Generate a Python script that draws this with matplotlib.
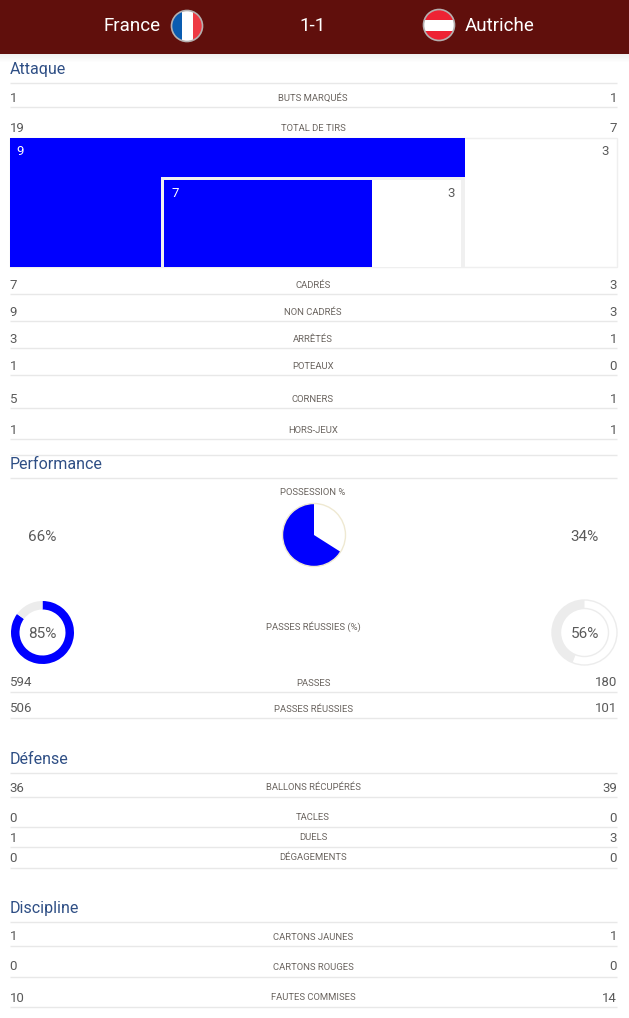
import matplotlib
matplotlib.use("Agg")
import matplotlib.pyplot as plt
from matplotlib.patches import Circle, Rectangle

# =========================================================
# 1. DATA
# =========================================================
team_left = "France"
team_right = "Autriche"
score = "1-1"

sections = ["Attaque", "Performance", "Défense", "Discipline"]

attack_labels = ["BUTS MARQUÉS", "TOTAL DE TIRS", "CADRÉS", "NON CADRÉS", "ARRÊTÉS", "POTEAUX", "CORNERS", "HORS-JEUX"]
attack_left = [1, 19, 7, 9, 3, 1, 5, 1]
attack_right = [1, 7, 3, 3, 1, 0, 1, 1]

passes_labels = ["PASSES", "PASSES RÉUSSIES"]
passes_left = [594, 506]
passes_right = [180, 101]

defense_labels = ["BALLONS RÉCUPÉRÉS", "TACLES", "DUELS", "DÉGAGEMENTS"]
defense_left = [36, 0, 1, 0]
defense_right = [39, 0, 3, 0]

discipline_labels = ["CARTONS JAUNES", "CARTONS ROUGES", "FAUTES COMMISES"]
discipline_left = [1, 0, 10]
discipline_right = [1, 0, 14]

shots_off = [9, 3]
shots_on = [7, 3]
possession = [66, 34]
pass_pct = [85, 56]

# =========================================================
# 2. LAYOUT (pixels from the top)
# =========================================================
W, H = 629, 1018
BLUE = "#0000ff"
VALUE = "#5a5a5a"
LABEL = "#6b6560"
HEAD = "#2f4f85"
LINE = "#e8e8e8"
VAL_SIZE = 9.5
LAB_SIZE = 6.8
PCT_SIZE = 11
HEAD_SIZE = 11.5
TOP_SIZE = 13.5

plt.rcParams["font.family"] = ["Roboto", "DejaVu Sans"]

attack_y = [97, 127, 284, 311, 338, 365, 398, 429]
attack_lines = [107, 294, 321, 348, 375, 408, 439]
passes_y = [682, 708]
passes_lines = [692, 718]
defense_y = [787, 817, 837, 857]
defense_lines = [797, 827, 847, 868]
discipline_y = [936, 966, 997]
discipline_lines = [946, 977, 1007]
section_y = [68, 463, 758, 907]
section_lines = [83, 455, 478, 773, 922]


def Y(y):
    return H - y


fig = plt.figure(figsize=(W / 100, H / 100), dpi=100)
ax = fig.add_axes([0, 0, 1, 1])
ax.set_xlim(0, W)
ax.set_ylim(0, H)


def label(x, y, s, **kw):
    # text sits about a pixel high with va=center
    return ax.text(x, Y(y + 1), s, va="center", **kw)


def rule(y):
    ax.plot([10, 617], [Y(y), Y(y)], color=LINE, lw=1, zorder=1, solid_capstyle="butt")


def row(y, name, left, right):
    label(9.5, y, str(left), color=VALUE, fontsize=VAL_SIZE, ha="left")
    label(617, y, str(right), color=VALUE, fontsize=VAL_SIZE, ha="right")
    label(313, y, name, color=LABEL, fontsize=LAB_SIZE, ha="center")


# =========================================================
# 3. HEADER
# =========================================================
ax.add_patch(Rectangle((0, Y(54)), W, 54, color="#600f0c", zorder=3, lw=0))
for i in range(8):
    ax.add_patch(Rectangle((0, Y(54 + i + 1)), W, 1, color="black", alpha=0.06 * (1 - i / 8), lw=0))

label(161, 25, team_left, color="white", fontsize=TOP_SIZE, ha="right", zorder=4)
label(312.5, 25, score, color="white", fontsize=TOP_SIZE, ha="center", zorder=4)
label(465, 25, team_right, color="white", fontsize=TOP_SIZE, ha="left", zorder=4)

# flags
fr_clip = Circle((187, Y(26)), 15.5, transform=ax.transData)
for x0, c in zip([171, 181.5, 192.5], ["#0a5cb0", "white", "#ee3a43"]):
    r = ax.add_patch(Rectangle((x0, Y(42)), 11, 32, color=c, lw=0, zorder=4))
    r.set_clip_path(fr_clip)
ax.add_patch(Circle((187, Y(26)), 15.5, fill=False, ec="#b5b0b0", lw=1.2, zorder=5))

at_clip = Circle((439, Y(25)), 15.5, transform=ax.transData)
for y0, c in zip([9, 20, 31], ["#ee2233", "white", "#ee2233"]):
    r = ax.add_patch(Rectangle((423, Y(y0 + 11)), 32, 11, color=c, lw=0, zorder=4))
    r.set_clip_path(at_clip)
ax.add_patch(Circle((439, Y(25)), 15.5, fill=False, ec="#b5b0b0", lw=1.2, zorder=5))

# =========================================================
# 4. SECTIONS AND ROWS
# =========================================================
for name, y in zip(sections, section_y):
    label(9.5, y, name, color=HEAD, fontsize=HEAD_SIZE, ha="left")
for y in section_lines:
    rule(y)

for ys, lines, labels, lv, rv in [
    (attack_y, attack_lines, attack_labels, attack_left, attack_right),
    (passes_y, passes_lines, passes_labels, passes_left, passes_right),
    (defense_y, defense_lines, defense_labels, defense_left, defense_right),
    (discipline_y, discipline_lines, discipline_labels, discipline_left, discipline_right),
]:
    for y, lab, a, b in zip(ys, labels, lv, rv):
        row(y, lab, a, b)
    for y in lines:
        rule(y)

# =========================================================
# 5. SHOTS BLOCK
# =========================================================
x0, x1 = 10, 617
top, bot = 138, 267
ax.add_patch(Rectangle((x0, Y(bot)), x1 - x0, bot - top, fc="white", ec="#efefef", lw=1, zorder=2))
outer_w = (x1 - x0) * shots_off[0] / sum(shots_off)
ax.barh(Y((top + bot) / 2), outer_w, height=bot - top, left=x0, color=BLUE, zorder=3)

# on-target box sits in the lower right of the blue bar
in_x0, in_x1 = 161, x0 + outer_w
in_top = 177
ax.add_patch(Rectangle((in_x0, Y(bot)), in_x1 - in_x0, bot - in_top, fc="#f0f0f0", lw=0, zorder=4))
box_x0, box_x1 = in_x0 + 3, in_x1 - 4
box_top = in_top + 3
ax.add_patch(Rectangle((box_x0, Y(bot)), box_x1 - box_x0, bot - box_top, fc="white", lw=0, zorder=5))
inner_w = (box_x1 - box_x0) * shots_on[0] / sum(shots_on)
ax.barh(Y((box_top + bot) / 2), inner_w, height=bot - box_top, left=box_x0, color=BLUE, zorder=6)

label(16, 150, str(shots_off[0]), color="white", fontsize=VAL_SIZE, zorder=7)
label(609, 150, str(shots_off[1]), color=VALUE, fontsize=VAL_SIZE, ha="right", zorder=7)
label(171, 192, str(shots_on[0]), color="white", fontsize=VAL_SIZE, zorder=7)
label(455, 192, str(shots_on[1]), color=VALUE, fontsize=VAL_SIZE, ha="right", zorder=7)

# =========================================================
# 6. POSSESSION AND PASS RINGS
# =========================================================
label(313, 491, "POSSESSION %", color=LABEL, fontsize=LAB_SIZE, ha="center")
ax.pie(possession[::-1], colors=["white", BLUE], startangle=90, counterclock=False,
       center=(314, Y(535)), radius=31.5, frame=True,
       wedgeprops={"lw": 0})
ax.add_patch(Circle((314, Y(535)), 31.5, fill=False, ec="#efe9d2", lw=1, zorder=1))
label(42.5, 536, f"{possession[0]}%", color=VALUE, fontsize=PCT_SIZE, ha="center")
label(584.5, 536, f"{possession[1]}%", color=VALUE, fontsize=PCT_SIZE, ha="center")

label(313, 626, "PASSES RÉUSSIES (%)", color=LABEL, fontsize=LAB_SIZE, ha="center")
ax.pie([pass_pct[0], 100 - pass_pct[0]], colors=[BLUE, "#ececec"], startangle=90, counterclock=False,
       center=(42.5, Y(632.5)), radius=31.5, frame=True,
       wedgeprops={"width": 8.5, "lw": 0})
ax.pie([pass_pct[1], 100 - pass_pct[1]], colors=["white", "#ececec"], startangle=90, counterclock=False,
       center=(584.5, Y(632.5)), radius=32.5, frame=True,
       wedgeprops={"width": 8.5, "lw": 0})
ax.add_patch(Circle((584.5, Y(632.5)), 32.5, fill=False, ec="#ececec", lw=1))
ax.add_patch(Circle((584.5, Y(632.5)), 24, fill=False, ec="#ececec", lw=1))
label(42.5, 633, f"{pass_pct[0]}%", color=VALUE, fontsize=PCT_SIZE, ha="center")
label(584.5, 633, f"{pass_pct[1]}%", color=VALUE, fontsize=PCT_SIZE, ha="center")

ax.set_xlim(0, W)
ax.set_ylim(0, H)
ax.set_aspect("auto")
ax.axis("off")

fig.savefig("out.png", dpi=100)
